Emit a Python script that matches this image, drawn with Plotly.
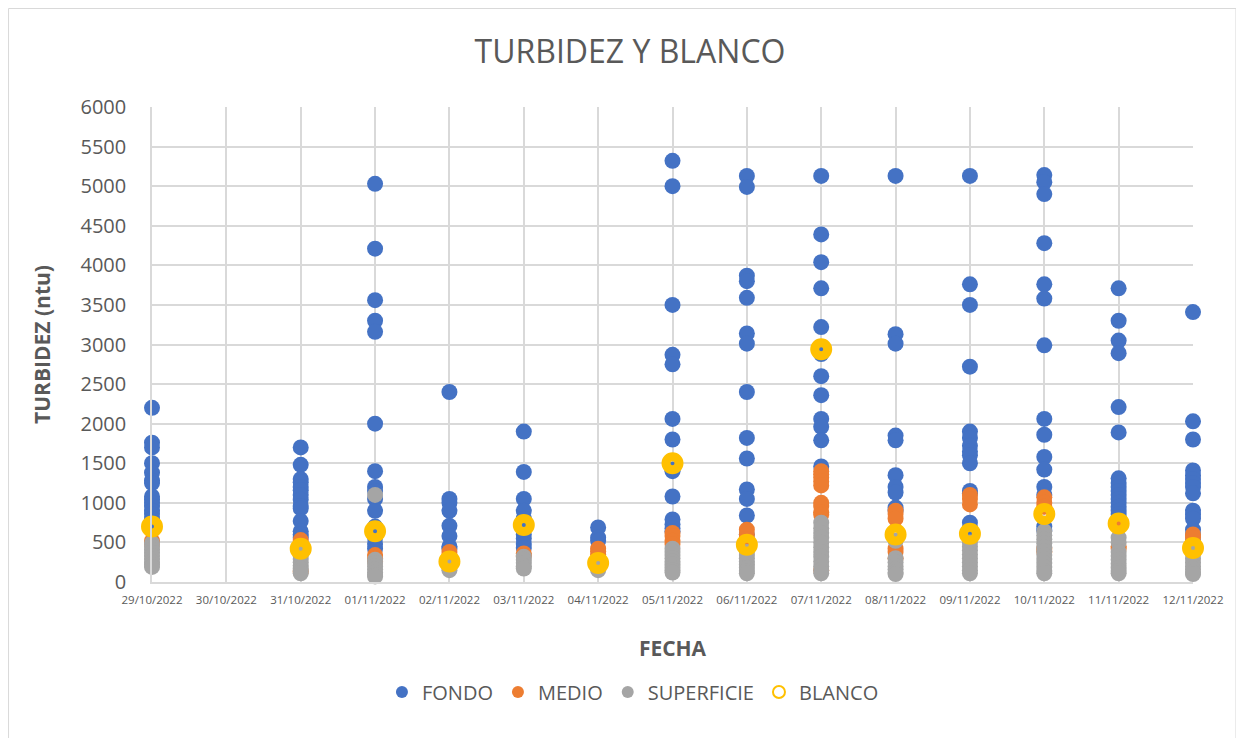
import plotly.graph_objects as go

DATES = ["2022-10-29", "2022-10-31", "2022-11-01", "2022-11-02", "2022-11-03", "2022-11-04", "2022-11-05",
         "2022-11-06", "2022-11-07", "2022-11-08", "2022-11-09", "2022-11-10", "2022-11-11", "2022-11-12"]

FONDO = [
    [2200, 1760, 1700, 1500, 1380, 1280, 1250, 1080, 1040, 1000, 960, 900, 860, 800, 750],
    [1700, 1480, 1300, 1260, 1200, 1160, 1100, 1040, 960, 930, 770, 640, 600, 560],
    [5030, 4210, 3560, 3300, 3160, 2000, 1400, 1200, 1150, 1050, 900, 700, 560, 480, 420],
    [2400, 1050, 1000, 900, 710, 580, 450, 420],
    [1900, 1390, 1050, 900, 800, 700, 600, 550, 480, 430],
    [690, 560, 520],
    [5320, 5000, 3500, 2870, 2750, 2060, 1800, 1420, 1400, 1080, 790, 730, 680, 640],
    [5130, 4990, 3870, 3800, 3590, 3140, 3010, 2400, 1820, 1560, 1170, 1050, 840, 600],
    [5130, 4390, 4040, 3710, 3220, 2880, 2600, 2360, 2060, 1960, 1790, 1460],
    [5130, 3130, 3010, 1850, 1790, 1350, 1200, 1130, 940, 900],
    [5130, 3760, 3500, 2720, 1900, 1820, 1720, 1650, 1600, 1500, 1150, 1120, 750, 680],
    [5140, 5050, 4900, 4280, 3760, 3580, 2990, 2060, 1860, 1580, 1420, 1200, 1100, 700, 650],
    [3710, 3300, 3050, 2890, 2210, 1890, 1310, 1250, 1200, 1150, 1100, 1050, 1000, 950, 900, 860, 820],
    [3410, 2030, 1800, 1410, 1350, 1300, 1250, 1200, 1120, 900, 850, 800, 660, 600, 520],
]

MEDIO = [
    [520, 480],
    [530, 490, 130],
    [340, 300, 260],
    [380, 340],
    [360, 330],
    [420, 390, 350],
    [620, 580, 520, 480],
    [660, 600, 540],
    [1400, 1360, 1320, 1270, 1220, 1000, 960, 880, 850, 150],
    [900, 860, 800, 420, 380, 300],
    [1100, 1050, 980],
    [1070, 1000, 950, 420, 380],
    [700, 450, 420],
    [600, 560],
]

SUPERFICIE = [
    [490, 450, 410, 370, 330, 290, 250, 220, 190],
    [370, 330, 290, 250, 210, 170, 140, 110],
    [1100, 280, 240, 200, 160, 120, 90, 70],
    [260, 220, 180, 150],
    [320, 280, 240, 200, 170],
    [200, 150],
    [420, 380, 340, 300, 260, 220, 180, 150, 120],
    [380, 340, 300, 260, 220, 180, 140, 110],
    [750, 680, 620, 560, 500, 440, 380, 320, 260, 200, 150, 110],
    [520, 300, 250, 200, 160, 120, 100],
    [500, 450, 400, 350, 300, 250, 200, 150, 110],
    [640, 590, 540, 490, 440, 390, 340, 290, 240, 190, 140, 110],
    [560, 500, 380, 330, 280, 230, 180, 140, 110],
    [360, 300, 250, 200, 160, 120, 100],
]

BLANCO = [700, 420, 640, 260, 720, 240, 1500, 470, 2940, 600, 610, 860, 740, 430]

TEXT = "#595959"
GRID = "#D9D9D9"
FONT = "Open Sans"


def flatten(groups):
    xs, ys = [], []
    for d, vals in zip(DATES, groups):
        for v in vals:
            xs.append(d)
            ys.append(v)
    return xs, ys


fig = go.Figure()
for name, groups, color in [("FONDO", FONDO, "#4472C4"), ("MEDIO", MEDIO, "#ED7D31"),
                            ("SUPERFICIE", SUPERFICIE, "#A5A5A5")]:
    x, y = flatten(groups)
    fig.add_trace(go.Scatter(x=x, y=y, mode="markers", name=name, cliponaxis=False,
                             marker=dict(size=16, color=color, line=dict(width=0))))

fig.add_trace(go.Scatter(x=DATES, y=BLANCO, mode="markers", name="BLANCO", cliponaxis=False,
                         marker=dict(size=13, color="rgba(255,255,255,0)",
                                     line=dict(width=9, color="#FFC000"))))

fig.update_layout(
    width=1244, height=738,
    paper_bgcolor="white", plot_bgcolor="white",
    margin=dict(l=144, r=59, t=99, b=164),
    font=dict(family=FONT, color=TEXT),
    title=dict(text="TURBIDEZ Y BLANCO", x=0.5, xanchor="center", y=0.9404, yanchor="middle",
               font=dict(size=32, color=TEXT, family=FONT)),
    xaxis=dict(type="date", range=["2022-10-29", "2022-11-12"], dtick=86400000, tick0="2022-10-29",
               tickformat="%d/%m/%Y", tickfont=dict(size=11.5, color=TEXT), ticks="", ticklabelstandoff=6,
               showgrid=True, gridcolor=GRID, gridwidth=1.5, showline=True, linecolor=GRID, linewidth=1.5,
               zeroline=False,
               title=dict(text="<b>FECHA</b>", font=dict(size=21, color=TEXT), standoff=36)),
    yaxis=dict(range=[0, 6000], dtick=500, tickfont=dict(size=20, color=TEXT), ticks="", ticklabelstandoff=20,
               showgrid=True, gridcolor=GRID, gridwidth=1.5, zeroline=False,
               showline=True, linecolor=GRID, linewidth=1.5,
               title=dict(text="<b>TURBIDEZ (ntu)</b>", font=dict(size=21, color=TEXT), standoff=24)),
    legend=dict(orientation="h", x=0.462, xanchor="center", y=-0.2316, yanchor="middle",
                font=dict(size=20, color=TEXT), itemsizing="constant", traceorder="normal"),
    shapes=[dict(type="rect", xref="paper", yref="paper", x0=-0.1378, x1=1.0413, y0=-0.36, y1=1.2074,
                 line=dict(color=GRID, width=1))],
)

fig.write_html("out.html")
